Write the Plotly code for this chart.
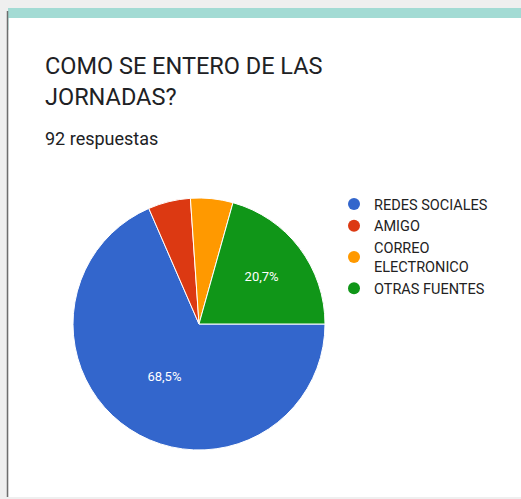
import plotly.graph_objects as go

W, H = 521, 499

categories = ["REDES SOCIALES", "AMIGO", "CORREO<br>ELECTRONICO", "OTRAS FUENTES"]
counts = [63, 5, 5, 19]
colors = ["#3366cc", "#dc3912", "#ff9900", "#109618"]
shown_labels = [True, False, False, True]
title_lines = ["COMO SE ENTERO DE LAS", "JORNADAS?"]
subtitle = "92 respuestas"


def px_x(x):
    return x / W


def px_y(y):
    return 1 - y / H


fig = go.Figure()

fig.add_trace(go.Pie(
    labels=categories,
    values=counts,
    marker=dict(colors=colors, line=dict(color="white", width=1)),
    sort=False,
    direction="clockwise",
    rotation=90,
    texttemplate=["%{percent:.1%}" if s else "" for s in shown_labels],
    textposition="inside",
    insidetextorientation="horizontal",
    textfont=dict(color="white", size=13, family="Roboto"),
    showlegend=False,
    hoverinfo="label+percent",
    domain=dict(x=[px_x(73), px_x(325)], y=[px_y(450), px_y(198)]),
))

for name, col in zip(categories, colors):
    fig.add_trace(go.Scatter(
        x=[None], y=[None], mode="markers", name=name,
        marker=dict(color=col, size=13, symbol="circle"),
        showlegend=True,
    ))

shapes = [
    dict(type="rect", xref="paper", yref="paper", x0=0, x1=1, y0=0, y1=1,
         fillcolor="#efefef", line=dict(width=0), layer="below"),
    dict(type="rect", xref="paper", yref="paper", x0=px_x(8), x1=1,
         y0=px_y(30), y1=px_y(8), fillcolor="#a3dbd4", line=dict(width=0), layer="below"),
    dict(type="rect", xref="paper", yref="paper", x0=px_x(8.5), x1=1,
         y0=px_y(497), y1=px_y(18), fillcolor="white", line=dict(width=0), layer="below"),
    dict(type="line", xref="paper", yref="paper", x0=px_x(7.5), x1=px_x(7.5),
         y0=px_y(497), y1=px_y(11), line=dict(color="#6e6e6e", width=1.5), layer="below"),
]

annotations = [
    dict(text=title_lines[0], x=px_x(43), y=px_y(66), xref="paper", yref="paper",
         xanchor="left", yanchor="middle", showarrow=False,
         font=dict(family="Roboto", size=23.5, color="#202124")),
    dict(text=title_lines[1], x=px_x(43), y=px_y(97), xref="paper", yref="paper",
         xanchor="left", yanchor="middle", showarrow=False,
         font=dict(family="Roboto", size=23.5, color="#202124")),
    dict(text=subtitle, x=px_x(43), y=px_y(138), xref="paper", yref="paper",
         xanchor="left", yanchor="middle", showarrow=False,
         font=dict(family="Roboto", size=18, color="#202124")),
]

fig.update_layout(
    width=W, height=H,
    margin=dict(l=0, r=0, t=0, b=0),
    paper_bgcolor="white",
    plot_bgcolor="rgba(0,0,0,0)",
    separators=",.",
    shapes=shapes,
    annotations=annotations,
    xaxis=dict(visible=False, range=[0, 1], fixedrange=True),
    yaxis=dict(visible=False, range=[0, 1], fixedrange=True),
    legend=dict(
        x=px_x(334), y=px_y(188), xanchor="left", yanchor="top",
        font=dict(family="Roboto", size=14.5, color="#222222"),
        bgcolor="rgba(0,0,0,0)", itemsizing="constant",
        tracegroupgap=0, itemwidth=30,
    ),
)

fig.write_html(
    "out.html",
    config={"displayModeBar": False},
    post_script="document.body.style.margin='0';document.body.style.overflow='hidden';",
)
